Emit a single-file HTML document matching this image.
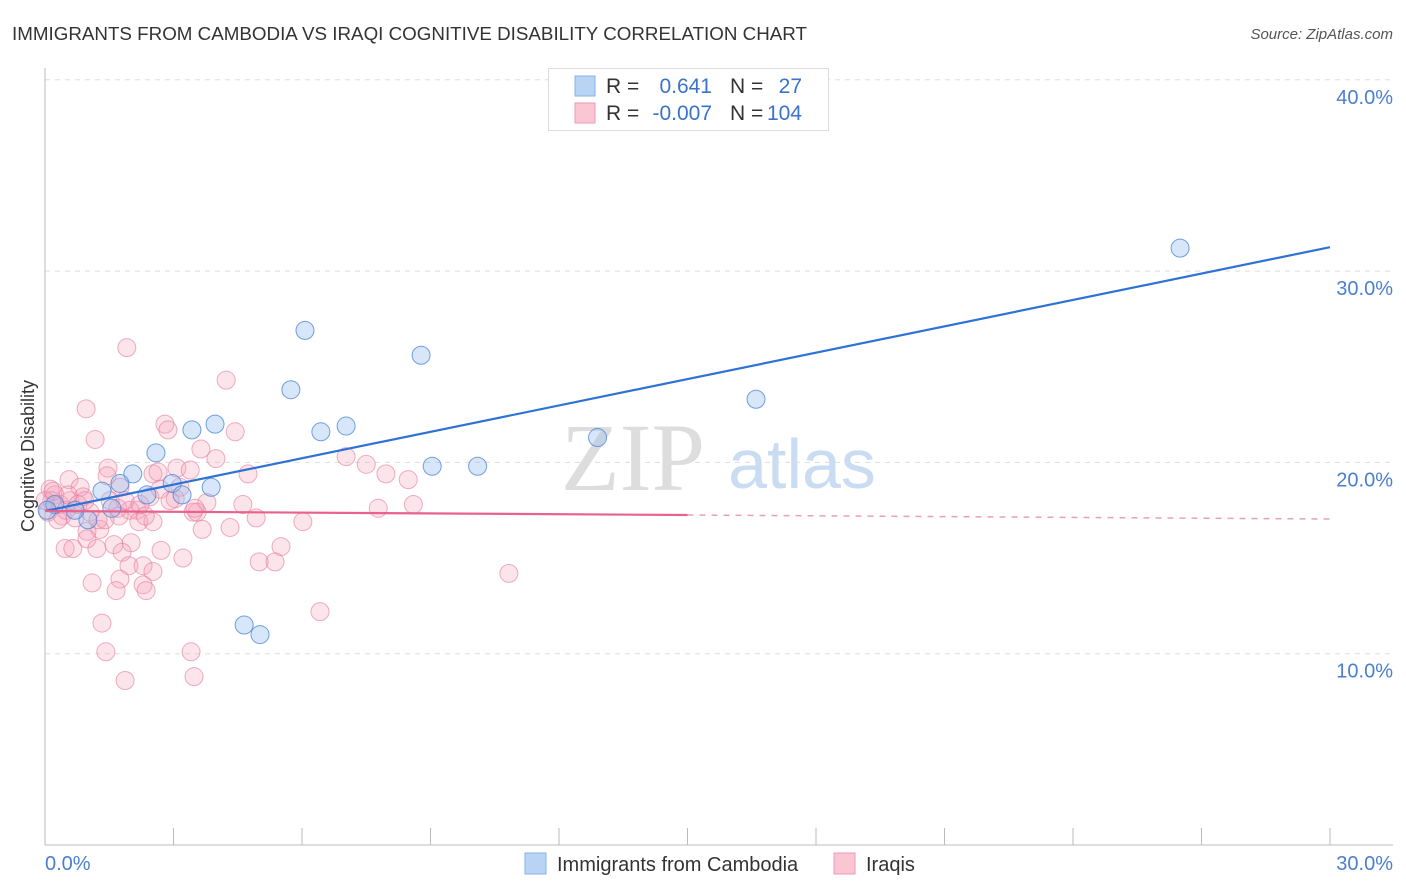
<!DOCTYPE html>
<html><head><meta charset="utf-8"><style>
body{margin:0;background:#fff;font-family:"Liberation Sans",sans-serif;}
svg{display:block}
</style></head><body>
<svg id="chart" width="1406" height="892">
<text x="12" y="40" font-size="18" fill="#333" textLength="795" lengthAdjust="spacingAndGlyphs">IMMIGRANTS FROM CAMBODIA VS IRAQI COGNITIVE DISABILITY CORRELATION CHART</text>
<text x="1393" y="39" font-size="15" fill="#555" font-style="italic" text-anchor="end">Source: ZipAtlas.com</text>
<g>
<text x="633" y="490" font-size="96" font-family="Liberation Serif,serif" fill="#ddd" text-anchor="middle">ZIP</text>
<text x="802" y="488" font-size="70" fill="#c9dcf2" text-anchor="middle">atlas</text>
</g>
<g id="grid"></g>
<g id="axes"></g>
<g id="marks"></g>
<g id="lines"></g>
<text transform="translate(34,456) rotate(-90)" font-size="18" fill="#333" text-anchor="middle">Cognitive Disability</text>
<g>
<rect x="548.5" y="68.5" width="280" height="62" fill="#fff" stroke="#ddd"/>
<rect x="575" y="76" width="20" height="20" fill="#b9d3f5" stroke="#86b0e8"/>
<rect x="575" y="103" width="20" height="20" fill="#fbc6d4" stroke="#ee9ab3"/>
<text x="606" y="93" font-size="21" fill="#333">R = </text><text x="712" y="93" font-size="21" fill="#3a72cc" text-anchor="end">0.641</text>
<text x="730" y="93" font-size="21" fill="#333">N = </text><text x="802" y="93" font-size="21" fill="#3a72cc" text-anchor="end">27</text>
<text x="606" y="120" font-size="21" fill="#333">R = </text><text x="712" y="120" font-size="21" fill="#3a72cc" text-anchor="end">-0.007</text>
<text x="730" y="120" font-size="21" fill="#333">N = </text><text x="802" y="120" font-size="21" fill="#3a72cc" text-anchor="end">104</text>
</g>
<g>
<rect x="525" y="853" width="21" height="21" fill="#b9d3f5" stroke="#86b0e8"/>
<text x="557" y="871" font-size="20" fill="#333">Immigrants from Cambodia</text>
<rect x="834" y="853" width="21" height="21" fill="#fbc6d4" stroke="#ee9ab3"/>
<text x="866" y="871" font-size="20" fill="#333">Iraqis</text>
</g>
</svg>
<script>
const yTicks=[10,20,30,40];
const xTickLabels=["0.0%","30.0%"];
const blueX=[26.5,6.07,8.78,5.74,16.6,3.97,3.43,7.03,6.44,12.9,2.59,9.04,10.1,2.05,2.97,3.88,1.75,2.38,3.2,1.33,1.56,1.0,0.7,0.23,0.05,4.65,5.02];
const blueY=[31.2,26.9,25.6,23.8,23.3,22.0,21.7,21.9,21.6,21.3,20.5,19.8,19.8,19.4,18.9,18.7,18.9,18.3,18.3,18.5,17.6,17.0,17.5,17.8,17.5,11.5,11.0];
const pinkX=[1.91,4.23,0.96,1.17,2.80,2.87,4.44,3.64,3.99,4.74,1.47,1.45,0.56,0.82,2.52,2.64,3.08,0.89,1.75,2.45,3.04,3.78,4.62,3.55,3.46,4.93,6.02,2.15,1.98,1.73,2.19,2.52,3.67,4.32,1.28,0.98,0.98,0.47,0.65,1.21,1.61,2.01,2.71,3.22,1.80,1.96,2.29,2.52,5.51,5.00,5.37,1.10,1.75,1.66,2.29,2.36,6.42,1.33,1.42,3.41,1.87,3.48,10.83,8.48,7.96,7.78,7.03,7.50,8.6,0.12,0.23,0.16,0.35,0.07,0.40,0.58,0.30,0.49,0.70,0.0,0.19,0.54,0.77,1.05,1.24,0.93,1.52,1.40,1.70,1.87,2.22,2.34,2.69,2.92,3.15,3.39,3.50];
const pinkY=[26.0,24.3,22.8,21.2,22.0,21.7,21.6,20.7,20.2,19.4,19.7,19.3,19.1,18.7,19.4,19.5,19.7,18.2,18.7,18.2,18.1,17.9,17.8,17.4,17.4,17.1,16.9,17.5,17.5,17.2,16.9,16.9,16.5,16.6,16.5,16.4,16.0,15.5,15.5,15.5,15.7,15.8,15.4,15.0,15.3,14.6,14.6,14.3,15.6,14.8,14.8,13.7,13.9,13.3,13.6,13.3,12.2,11.6,10.1,10.1,8.6,8.8,14.2,19.1,19.4,17.6,20.3,19.9,17.8,18.6,18.3,18.0,17.8,17.4,17.2,18.0,17.0,17.5,17.1,18.0,18.5,18.3,17.8,17.4,17.0,18.0,18.0,17.0,17.6,18.0,17.8,17.2,18.6,18.0,18.7,19.6,17.6];
const blueFit=[17.46,31.25];
const pinkFit=[17.46,17.04];
const pinkSolidEnd=15;
const NS="http://www.w3.org/2000/svg";
const X=v=>45+v/30*1285, Y=v=>845-v*19.13;
function mk(t,a,p){const e=document.createElementNS(NS,t);for(const k in a)e.setAttribute(k,a[k]);document.getElementById(p).appendChild(e);return e;}
yTicks.forEach(t=>{
 const g=mk('line',{x1:45,x2:1393,y1:Y(t),y2:Y(t),stroke:'#ddd','stroke-dasharray':'5,5'},'grid');
 
 
 const l=mk('text',{x:1393,y:Y(t)+24,'font-size':20,fill:'#4a7fd0','text-anchor':'end'},'axes');
 l.textContent=t.toFixed(1)+'%';
 
 
});
let ax=mk('line',{x1:45,x2:45,y1:68,y2:845,stroke:'#bbb'},'axes');


ax=mk('line',{x1:45,x2:1393,y1:845,y2:845,stroke:'#bbb'},'axes');


for(let i=0;i<=10;i++){const t=mk('line',{x1:X(i*3),x2:X(i*3),y1:828,y2:845,stroke:'#bbb'},'axes');
 
 }
[[0,'start',45],[1,'end',1393]].forEach(([i,a,x])=>{const t=mk('text',{x:x,y:870,'font-size':20,fill:'#4a7fd0','text-anchor':a},'axes');t.textContent=xTickLabels[i];
 
 });
pinkX.forEach((x,i)=>{const c=mk('circle',{cx:X(x),cy:Y(pinkY[i]),r:9,fill:'rgba(245,165,190,0.3)',stroke:'rgba(228,120,155,0.6)','stroke-width':1},'marks');
 
 });
blueX.forEach((x,i)=>{const c=mk('circle',{cx:X(x),cy:Y(blueY[i]),r:9,fill:'rgba(150,190,240,0.38)',stroke:'rgba(70,130,215,0.75)','stroke-width':1},'marks');
 
 });
let ln=mk('line',{x1:X(0),y1:Y(blueFit[0]),x2:X(30),y2:Y(blueFit[1]),stroke:'#2f72d6','stroke-width':2.2},'lines');


const pm=y=>pinkFit[0]+(pinkFit[1]-pinkFit[0])*y/30;
ln=mk('line',{x1:X(0),y1:Y(pinkFit[0]),x2:X(pinkSolidEnd),y2:Y(pm(pinkSolidEnd)),stroke:'#e8628e','stroke-width':2.2},'lines');


ln=mk('line',{x1:X(pinkSolidEnd),y1:Y(pm(pinkSolidEnd)),x2:X(30),y2:Y(pinkFit[1]),stroke:'#e8a0b8','stroke-width':1.5,'stroke-dasharray':'6,6'},'lines');


</script>
</body></html>
